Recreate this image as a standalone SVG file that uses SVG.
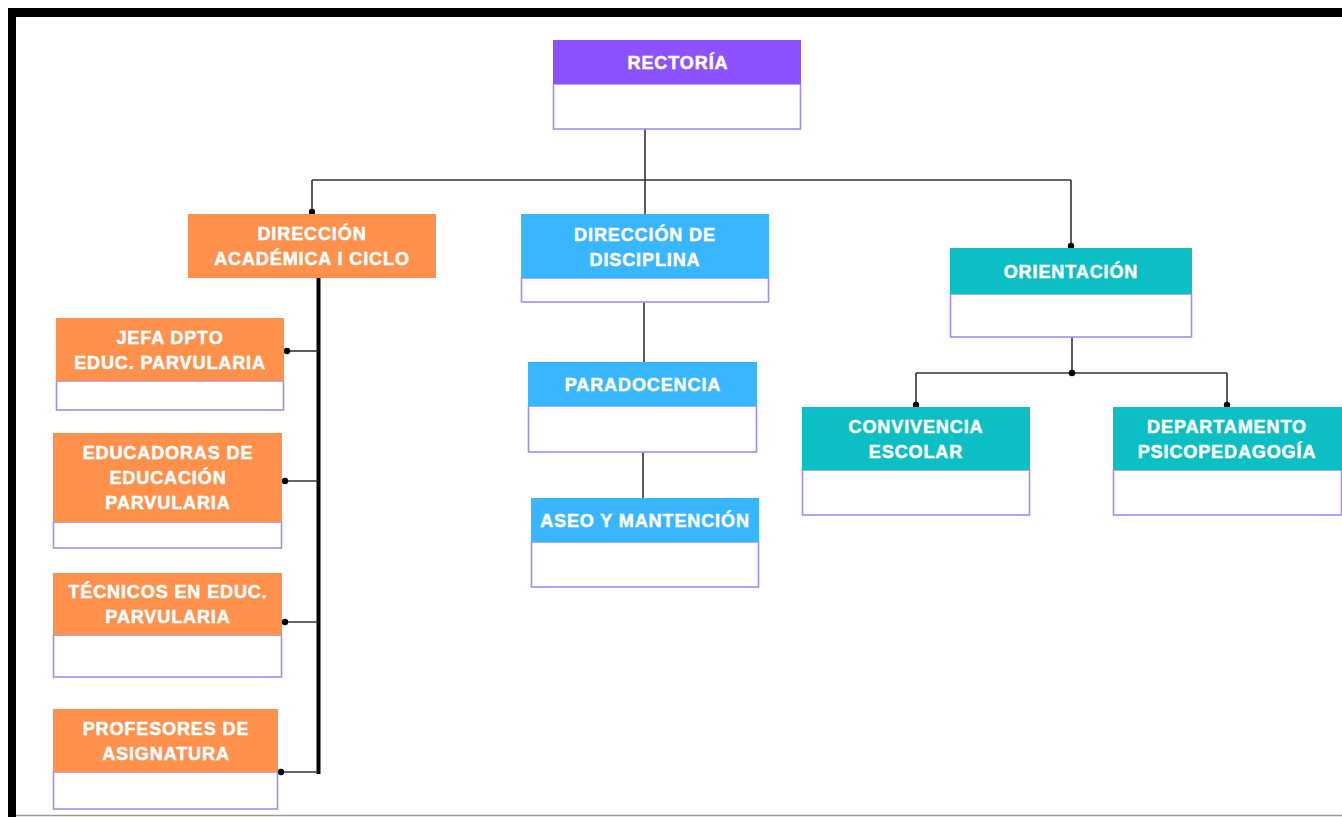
<svg xmlns="http://www.w3.org/2000/svg" width="1342" height="817" viewBox="0 0 1342 817">
<style>
.lbl{font-family:"Liberation Sans",Arial,sans-serif;font-weight:bold;font-size:18px;fill:#ffffff;stroke:#ffffff;stroke-width:0.5;letter-spacing:0.9px;text-anchor:middle}
.body{fill:#ffffff;stroke:#a78bf0;stroke-width:1.6}
.or{fill:#ff914d}
.pu{fill:#8c52ff}
.bl{fill:#38b6ff}
.te{fill:#0cbfc5}
.ln{stroke:#333333;stroke-width:1.6;fill:none}
.dot{fill:#000000}
</style>
<rect x="0" y="0" width="1342" height="817" fill="#ffffff"/>
<rect x="8" y="8" width="1334" height="9" fill="#000000"/>
<rect x="8" y="8" width="8" height="809" fill="#000000"/>
<line x1="16" y1="815.5" x2="1342" y2="815.5" stroke="#9a9a9a" stroke-width="1.5"/>

<g id="connectors">
<line class="ln" x1="645" y1="129" x2="645" y2="214"/>
<line class="ln" x1="312" y1="180" x2="1071" y2="180"/>
<line class="ln" x1="312" y1="180" x2="312" y2="214"/>
<line class="ln" x1="1071" y1="180" x2="1071" y2="248"/>
<line class="ln" x1="644" y1="302" x2="644" y2="362"/>
<line class="ln" x1="643" y1="452" x2="643" y2="498"/>
<line class="ln" x1="1072" y1="337" x2="1072" y2="373"/>
<line class="ln" x1="916" y1="373" x2="1227" y2="373"/>
<line class="ln" x1="916" y1="373" x2="916" y2="407"/>
<line class="ln" x1="1227" y1="373" x2="1227" y2="407"/>
<line x1="318.5" y1="278" x2="318.5" y2="774" stroke="#000000" stroke-width="4"/>
<line class="ln" x1="286" y1="351" x2="318" y2="351"/>
<line class="ln" x1="284" y1="481" x2="318" y2="481"/>
<line class="ln" x1="284" y1="622" x2="318" y2="622"/>
<line class="ln" x1="280" y1="772" x2="318" y2="772"/>
<circle class="dot" cx="312" cy="212" r="3.2"/>
<circle class="dot" cx="1071" cy="246" r="3.2"/>
<circle class="dot" cx="1072" cy="373" r="3.2"/>
<circle class="dot" cx="916" cy="405" r="3.2"/>
<circle class="dot" cx="1227" cy="405" r="3.2"/>
<circle class="dot" cx="287" cy="351" r="3.2"/>
<circle class="dot" cx="285" cy="481" r="3.2"/>
<circle class="dot" cx="285" cy="622" r="3.2"/>
<circle class="dot" cx="281" cy="772" r="3.2"/>
</g>

<g id="rectoria">
<rect class="body" x="553.5" y="84" width="247" height="45"/>
<rect class="pu" x="553" y="40" width="248" height="44"/>
<text class="lbl" x="678" y="69">RECTORÍA</text>
</g>

<g id="direccion-academica">
<rect class="or" x="188" y="214" width="248" height="64"/>
<text class="lbl" x="312" y="240">DIRECCIÓN</text>
<text class="lbl" x="312" y="265">ACADÉMICA I CICLO</text>
</g>

<g id="direccion-disciplina">
<rect class="body" x="521.5" y="278" width="247" height="24"/>
<rect class="bl" x="521" y="214" width="248" height="64"/>
<text class="lbl" x="645" y="241">DIRECCIÓN DE</text>
<text class="lbl" x="645" y="266">DISCIPLINA</text>
</g>

<g id="paradocencia">
<rect class="body" x="528.5" y="406" width="228" height="46"/>
<rect class="bl" x="528" y="362" width="229" height="44"/>
<text class="lbl" x="643" y="391">PARADOCENCIA</text>
</g>

<g id="aseo">
<rect class="body" x="531.5" y="542" width="227" height="45"/>
<rect class="bl" x="531" y="498" width="228" height="44"/>
<text class="lbl" x="645" y="527">ASEO Y MANTENCIÓN</text>
</g>

<g id="orientacion">
<rect class="body" x="950.5" y="294" width="241" height="43"/>
<rect class="te" x="950" y="248" width="242" height="46"/>
<text class="lbl" x="1071" y="278">ORIENTACIÓN</text>
</g>

<g id="convivencia">
<rect class="body" x="802.5" y="470" width="227" height="45"/>
<rect class="te" x="802" y="407" width="228" height="63"/>
<text class="lbl" x="916" y="433">CONVIVENCIA</text>
<text class="lbl" x="916" y="458">ESCOLAR</text>
</g>

<g id="departamento">
<rect class="body" x="1113.5" y="470" width="228" height="45"/>
<rect class="te" x="1113" y="407" width="229" height="63"/>
<text class="lbl" x="1227" y="433">DEPARTAMENTO</text>
<text class="lbl" x="1227" y="458">PSICOPEDAGOGÍA</text>
</g>

<g id="jefa-dpto">
<rect class="body" x="56.5" y="381" width="227" height="29"/>
<rect class="or" x="56" y="318" width="228" height="63"/>
<text class="lbl" x="170" y="344">JEFA DPTO</text>
<text class="lbl" x="170" y="369">EDUC. PARVULARIA</text>
</g>

<g id="educadoras">
<rect class="body" x="53.5" y="522" width="228" height="26"/>
<rect class="or" x="53" y="433" width="229" height="89"/>
<text class="lbl" x="168" y="459">EDUCADORAS DE</text>
<text class="lbl" x="168" y="484">EDUCACIÓN</text>
<text class="lbl" x="168" y="509">PARVULARIA</text>
</g>

<g id="tecnicos">
<rect class="body" x="53.5" y="635" width="228" height="42"/>
<rect class="or" x="53" y="573" width="229" height="62"/>
<text class="lbl" x="168" y="598">TÉCNICOS EN EDUC.</text>
<text class="lbl" x="168" y="623">PARVULARIA</text>
</g>

<g id="profesores">
<rect class="body" x="53.5" y="772" width="224" height="37"/>
<rect class="or" x="53" y="709" width="225" height="63"/>
<text class="lbl" x="166" y="735">PROFESORES DE</text>
<text class="lbl" x="166" y="760">ASIGNATURA</text>
</g>
</svg>
